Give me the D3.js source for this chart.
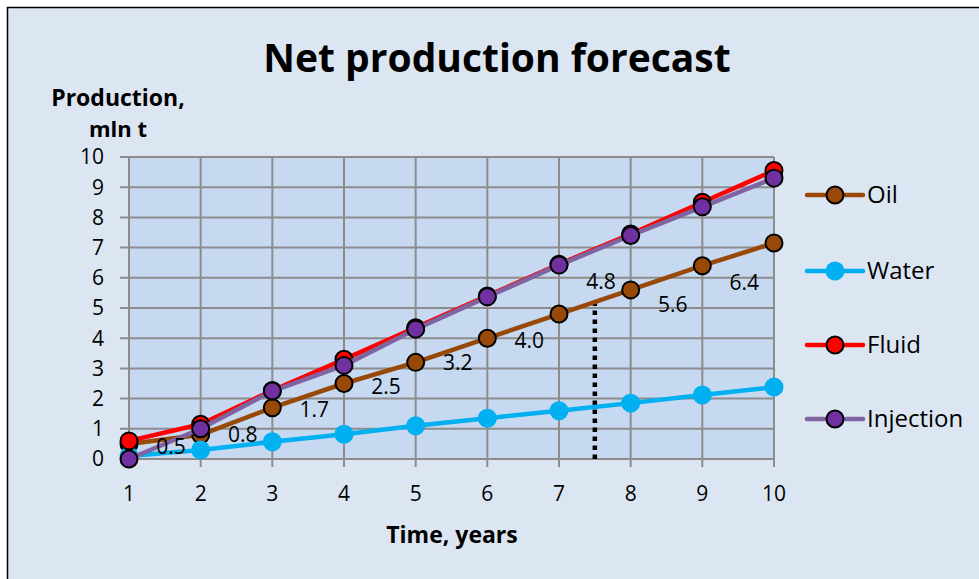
<!DOCTYPE html>
<html lang="en">
<head>
<meta charset="utf-8">
<title>Net production forecast</title>
<script src="https://cdn.jsdelivr.net/npm/d3@7"></script>
<style>
  body { margin: 0; background: #fff; }
  svg text { font-family: "Open Sans", "Liberation Sans", sans-serif; fill: #000; }
</style>
</head>
<body>
<svg id="chart" width="979" height="579"></svg>
<script>
// data
var years = [1, 2, 3, 4, 5, 6, 7, 8, 9, 10];
var oil = [0.5, 0.8, 1.7, 2.5, 3.2, 4.0, 4.8, 5.6, 6.4, 7.15];
var water = [0.1, 0.3, 0.57, 0.82, 1.1, 1.35, 1.6, 1.85, 2.12, 2.38];
var fluid = [0.6, 1.15, 2.27, 3.3, 4.35, 5.4, 6.45, 7.45, 8.5, 9.55];
var injection = [0, 1.0, 2.25, 3.1, 4.3, 5.37, 6.42, 7.4, 8.35, 9.3];
var oilLabels = ["0.5", "0.8", "1.7", "2.5", "3.2", "4.0", "4.8", "5.6", "6.4"];
var yTicks = [0, 1, 2, 3, 4, 5, 6, 7, 8, 9, 10];
var forecastStart = 7.5;
var forecastTop = 5.3;

var svg = d3.select('#chart');

// chart frame, cut off at right and bottom like the picture
svg.append('rect')
  .attr('x', 7.5).attr('y', 7.5)
  .attr('width', 990).attr('height', 600)
  .attr('fill', '#dce6f2')
  .attr('stroke', '#000').attr('stroke-width', 1.5);

var x = d3.scaleLinear().domain([1, 10]).range([129, 774]);
var y = d3.scaleLinear().domain([0, 10]).range([459, 157]);

svg.append('rect')
  .attr('x', x(1)).attr('y', y(10))
  .attr('width', x(10) - x(1)).attr('height', y(0) - y(10))
  .attr('fill', '#c6d9f1');

// grid
var grid = svg.append('g').attr('stroke', '#8c8c8c').attr('stroke-width', 2);
grid.selectAll('line.h').data(yTicks).enter().append('line')
  .attr('x1', x(1) - 9).attr('x2', x(10))
  .attr('y1', function(d) { return y(d); }).attr('y2', function(d) { return y(d); });
grid.selectAll('line.v').data(years).enter().append('line')
  .attr('x1', function(d) { return x(d); }).attr('x2', function(d) { return x(d); })
  .attr('y1', y(10)).attr('y2', y(0) + 8);

// tick labels
svg.append('g').selectAll('text').data(yTicks).enter().append('text')
  .attr('x', 104).attr('y', function(d) { return y(d); })
  .attr('dy', '0.35em').attr('text-anchor', 'end')
  .style('font-size', '21px')
  .text(function(d) { return d; });
svg.append('g').selectAll('text').data(years).enter().append('text')
  .attr('x', function(d) { return x(d); }).attr('y', 501)
  .attr('text-anchor', 'middle')
  .style('font-size', '21px')
  .text(function(d) { return d; });

// titles
svg.append('text').attr('x', 497).attr('y', 72).attr('text-anchor', 'middle')
  .style('font-size', '39px').style('font-weight', 'bold')
  .text('Net production forecast');
svg.append('text').attr('x', 118).attr('y', 106).attr('text-anchor', 'middle')
  .style('font-size', '23px').style('font-weight', 'bold')
  .text('Production,');
svg.append('text').attr('x', 118).attr('y', 137).attr('text-anchor', 'middle')
  .style('font-size', '22px').style('font-weight', 'bold')
  .text('mln t');
svg.append('text').attr('x', 452).attr('y', 543).attr('text-anchor', 'middle')
  .style('font-size', '23px').style('font-weight', 'bold')
  .text('Time, years');

// forecast boundary
svg.append('line')
  .attr('x1', x(forecastStart)).attr('x2', x(forecastStart))
  .attr('y1', y(0)).attr('y2', y(forecastTop))
  .attr('stroke', '#000').attr('stroke-width', 4.5)
  .attr('stroke-dasharray', '4.5 4.5');

var series = [
  { name: 'Oil', values: oil, line: '#984807', fill: '#984807', stroke: '#000', r: 8.5 },
  { name: 'Water', values: water, line: '#00b0f0', fill: '#00b0f0', stroke: 'none', r: 9.5 },
  { name: 'Fluid', values: fluid, line: '#ff0000', fill: '#ff0000', stroke: '#000', r: 8.5 },
  { name: 'Injection', values: injection, line: '#8064a2', fill: '#7030a0', stroke: '#000', r: 8.5 }
];

var line = d3.line()
  .x(function(d, i) { return x(years[i]); })
  .y(function(d) { return y(d); });

series.forEach(function(s) {
  var g = svg.append('g');
  g.append('path').datum(s.values)
    .attr('d', line).attr('fill', 'none')
    .attr('stroke', s.line).attr('stroke-width', 4.5)
    .attr('stroke-linejoin', 'round');
  g.selectAll('circle').data(s.values).enter().append('circle')
    .attr('cx', function(d, i) { return x(years[i]); })
    .attr('cy', function(d) { return y(d); })
    .attr('r', s.r)
    .attr('fill', s.fill).attr('stroke', s.stroke).attr('stroke-width', 2);
});

// oil data labels (Excel placed a few of them by hand)
var labelDy = [3, 0, 2, 3, 0, 2, -32, 15, 17];
svg.append('g').selectAll('text').data(oilLabels).enter().append('text')
  .attr('x', function(d, i) { return x(years[i]) + 42; })
  .attr('y', function(d, i) { return y(oil[i]) + labelDy[i]; })
  .attr('dy', '0.35em').attr('text-anchor', 'middle')
  .style('font-size', '21px')
  .text(function(d) { return d; });

// legend
var legend = svg.append('g');
var legendY = [195, 271, 345, 419];
series.forEach(function(s, i) {
  var row = legend.append('g').attr('transform', 'translate(0,' + legendY[i] + ')');
  row.append('line').attr('x1', 807).attr('x2', 863)
    .attr('stroke', s.line).attr('stroke-width', 4.5).attr('stroke-linecap', 'round');
  row.append('circle').attr('cx', 835).attr('r', s.r)
    .attr('fill', s.fill).attr('stroke', s.stroke).attr('stroke-width', 2);
  row.append('text').attr('x', 867).attr('dy', '0.35em')
    .style('font-size', '24px')
    .text(s.name);
});
</script>
</body>
</html>
